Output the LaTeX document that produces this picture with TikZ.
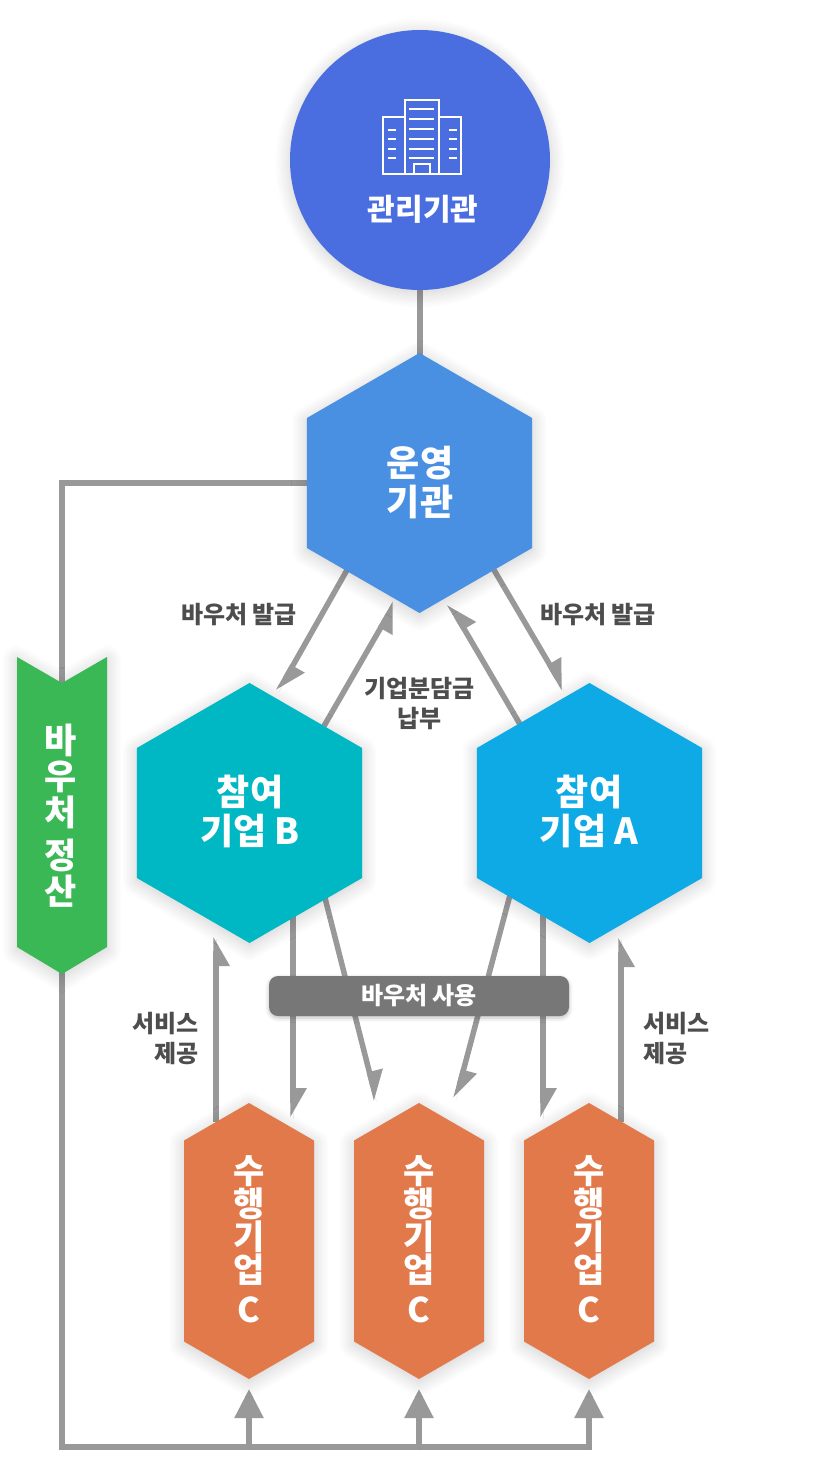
\documentclass[tikz,border=0pt]{standalone}
\usepackage{fontspec}
\setmainfont{Noto Sans CJK KR}
\usetikzlibrary{positioning,arrows.meta,shapes.geometric,backgrounds,shadows.blur,calc}
\definecolor{flowgray}{HTML}{999999}
\definecolor{labelgray}{HTML}{4D4D4D}
\definecolor{pillgray}{HTML}{777777}
\definecolor{admblue}{HTML}{4A6EE0}
\definecolor{opblue}{HTML}{4A90E2}
\definecolor{skyblue}{HTML}{0EAAE6}
\definecolor{tealc}{HTML}{00B8C4}
\definecolor{ribbongreen}{HTML}{3AB855}
\definecolor{orangec}{HTML}{E2794A}

% half arrow heads of the connectors
\pgfdeclarearrow{
  name=HalfL,
  setup code={
    \pgfarrowssettipend{0pt}
    \pgfarrowssetlineend{-14pt}
    \pgfarrowssetbackend{-29pt}
    \pgfarrowssetvisualbackend{-29pt}
    \pgfarrowshullpoint{0pt}{-2.75pt}
    \pgfarrowshullpoint{-29pt}{14pt}
    \pgfarrowshullpoint{-29pt}{-2.75pt}
  },
  drawing code={
    \pgfpathmoveto{\pgfqpoint{0pt}{-2.75pt}}
    \pgfpathlineto{\pgfqpoint{-29pt}{14pt}}
    \pgfpathlineto{\pgfqpoint{-29pt}{-2.75pt}}
    \pgfpathclose
    \pgfusepathqfill
  }
}
\pgfdeclarearrow{
  name=HalfR,
  setup code={
    \pgfarrowssettipend{0pt}
    \pgfarrowssetlineend{-14pt}
    \pgfarrowssetbackend{-29pt}
    \pgfarrowssetvisualbackend{-29pt}
    \pgfarrowshullpoint{0pt}{2.75pt}
    \pgfarrowshullpoint{-29pt}{-14pt}
    \pgfarrowshullpoint{-29pt}{2.75pt}
  },
  drawing code={
    \pgfpathmoveto{\pgfqpoint{0pt}{2.75pt}}
    \pgfpathlineto{\pgfqpoint{-29pt}{-14pt}}
    \pgfpathlineto{\pgfqpoint{-29pt}{2.75pt}}
    \pgfpathclose
    \pgfusepathqfill
  }
}

\begin{document}
\begin{tikzpicture}[x=1pt,y=-1pt,
    softshadow/.style={blur shadow={shadow xshift=0pt, shadow yshift=-3pt, shadow blur radius=15pt, shadow blur steps=14, shadow opacity=20}},
    hexa/.style={regular polygon, regular polygon sides=6, shape border rotate=90, minimum size=260pt, inner sep=0pt, outer sep=0pt, fill=#1, softshadow},
    hexlabel/.style={text=white, font=\fontsize{36}{39.5}\selectfont\bfseries, align=center, inner sep=0pt},
    lab/.style={text=labelgray, font=\fontsize{24}{30}\selectfont\bfseries, inner sep=0pt},
    flow/.style={draw=flowgray, line width=5.5pt, preaction={arrows=-, draw=black, draw opacity=.08, transform canvas={yshift=-2pt}}},
    sidehex/.style={fill=orangec, softshadow},
    sidetext/.style={text=white, font=\fontsize{34}{33}\selectfont\bfseries, align=center, inner sep=0pt},
    icon/.style={draw=white, line width=1.6pt}]

\useasboundingbox (0,0) rectangle (840,1480);

\node[circle, fill=admblue, minimum size=260pt, inner sep=0pt, outer sep=0pt, softshadow] (admin) at (420,160) {};
\node[text=white, font=\fontsize{30}{34}\selectfont\bfseries, inner sep=0pt] (admintext) at (423,209) {관리기관};

% building icon
\draw[icon] (404,174) -- (383,174) -- (383,117) -- (404,117);
\draw[icon] (405,174) -- (405,100) -- (439,100) -- (439,174) -- cycle;
\draw[icon] (440,117) -- (461,117) -- (461,174) -- (440,174);
\draw[icon] (414,174) -- (414,164) -- (430,164) -- (430,174);
\foreach \y in {109,119,129,139,149,158} \draw[icon] (409,\y) -- (434,\y);
\foreach \y in {130,139,149,158} {
    \draw[icon] (388,\y) -- (396,\y);
    \draw[icon] (449,\y) -- (457,\y);
}

\node[hexa=opblue] (oper) at (419.5,483) {};
\node[hexlabel] (opertext) at (420,482.5) {운영\\기관};
\node[hexa=tealc] (compb) at (249.5,813) {};
\node[hexlabel] (compbtext) at (250,811.5) {참여\\기업 B};
\node[hexa=skyblue] (compa) at (589.5,813) {};
\node[hexlabel] (compatext) at (589,811.5) {참여\\기업 A};

% voucher ribbon
\path[fill=ribbongreen, softshadow] (17,657) -- (62,683) -- (107,657) -- (107,947) -- (62,974) -- (17,947) -- cycle;
\node[text=white, font=\fontsize{35}{36}\selectfont\bfseries, align=center, inner sep=0pt] (settle) at (61,816) {바\\우\\처\\[7pt]정\\산};

% performing companies
\foreach \n/\x in {one/249,two/419,three/589} {
    \path[sidehex] (\x,1103) -- (\x+65,1140.5) -- (\x+65,1341.5) -- (\x,1379) -- (\x-65,1341.5) -- (\x-65,1140.5) -- cycle;
    \node[sidetext] (perf\n) at (\x,1239) {수\\행\\기\\업\\[7pt]C};
    \coordinate (foot\n) at (\x,1389);
    \coordinate (base\n) at (\x,1447);
}

\node[rectangle, rounded corners=9pt, fill=pillgray, minimum width=300pt, minimum height=40pt, inner sep=0pt, text=white, font=\fontsize{24}{24}\selectfont\bfseries, blur shadow={shadow xshift=0pt, shadow yshift=-2pt, shadow blur radius=4pt, shadow opacity=25}] (use) at (419,996) {바우처 사용};

\node[lab] (issueb) at (239,615) {바우처 발급};
\node[lab] (issuea) at (598,615) {바우처 발급};
\node[lab, align=center] (share) at (419.5,704) {기업분담금\\납부};
\node[lab, align=right, anchor=east] (servb) at (199,1038) {서비스\\제공};
\node[lab, align=left, anchor=west] (serva) at (643,1038) {서비스\\제공};

% free ends of the connectors
\coordinate (adminfoot) at (420,285);
\coordinate (opertop) at (420,358);
\coordinate (issuebs) at (347,570);
\coordinate (issuebe) at (278.4,691);
\coordinate (paybs) at (324,726);
\coordinate (paybe) at (395,603);
\coordinate (issueas) at (494,570);
\coordinate (issueae) at (564,689);
\coordinate (payas) at (521,726);
\coordinate (payae) at (449.5,604);
\coordinate (servbs) at (216,1122);
\coordinate (servbe) at (216,937);
\coordinate (useb1s) at (293,915);
\coordinate (useb1e) at (293,1117);
\coordinate (useb2s) at (325,898);
\coordinate (useb2e) at (376.5,1100);
\coordinate (usea1s) at (510,895);
\coordinate (usea1e) at (456,1098);
\coordinate (usea2s) at (543,915);
\coordinate (usea2e) at (543,1117);
\coordinate (servas) at (621,1122);
\coordinate (servae) at (621,938);
\coordinate (rail) at (62,1447);

\begin{scope}[on background layer]
\draw[flow, line width=6pt] (adminfoot) -- (opertop);
\draw[flow, line width=6pt] (oper.center) -| (rail) -- ([xshift=3pt]basethree);
\foreach \n in {one,two,three}
    \draw[flow, -{Triangle[length=29pt,width=28pt]}] (base\n) -- (foot\n);
\draw[flow, -{HalfL}] (issuebs) -- (issuebe);
\draw[flow, -{HalfR}] (paybs) -- (paybe);
\draw[flow, -{HalfL}] (issueas) -- (issueae);
\draw[flow, -{HalfR}] (payas) -- (payae);
\draw[flow, -{HalfR}] (servbs) -- (servbe);
\draw[flow, -{HalfL}] (useb1s) -- (useb1e);
\draw[flow, -{HalfL}] (useb2s) -- (useb2e);
\draw[flow, -{HalfL}] (usea1s) -- (usea1e);
\draw[flow, -{HalfL}] (usea2s) -- (usea2e);
\draw[flow, -{HalfR}] (servas) -- (servae);
\end{scope}

\end{tikzpicture}
\end{document}
